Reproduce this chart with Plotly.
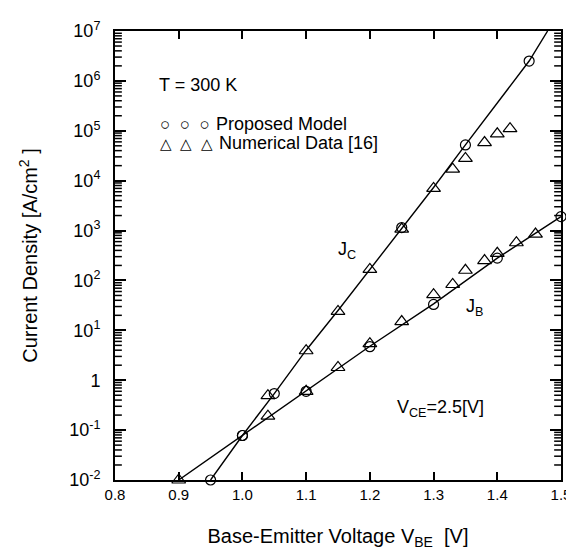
import plotly.graph_objects as go

# ---- data ----
jc_line_v = [0.95, 1.0, 1.05, 1.1, 1.15, 1.2, 1.25, 1.3, 1.35, 1.4, 1.45, 1.479]
jc_line_j = [0.01, 0.078, 0.54, 4.0, 25, 168, 1100, 7300, 5.2e4, 3.6e5, 2.5e6, 1.0e7]

jb_line_v = [0.9, 1.0, 1.1, 1.2, 1.3, 1.4, 1.5]
jb_line_j = [0.01, 0.078, 0.6, 4.8, 34, 280, 1900]

model_v = [0.95, 1.0, 1.05, 1.25, 1.35, 1.45, 1.0, 1.1, 1.2, 1.3, 1.4, 1.5]
model_j = [0.01, 0.078, 0.54, 1150, 5.2e4, 2.5e6, 0.078, 0.6, 4.7, 33, 280, 1900]

num_jc_v = [1.04, 1.1, 1.15, 1.2, 1.25, 1.3, 1.33, 1.35, 1.38, 1.4, 1.42]
num_jc_j = [0.49, 3.9, 24, 166, 1070, 7000, 1.7e4, 2.8e4, 5.8e4, 8.7e4, 1.1e5]

num_jb_v = [0.9, 1.04, 1.1, 1.15, 1.2, 1.25, 1.3, 1.33, 1.35, 1.38, 1.4, 1.43, 1.46]
num_jb_j = [0.01, 0.19, 0.6, 1.8, 5.4, 15, 52, 83, 160, 250, 350, 570, 850]

x_ticks = [0.8, 0.9, 1.0, 1.1, 1.2, 1.3, 1.4, 1.5]
y_ticks = [1e-2, 1e-1, 1, 1e1, 1e2, 1e3, 1e4, 1e5, 1e6, 1e7]
y_labels = ["10<sup>-2</sup>", "10<sup>-1</sup>", "1", "10<sup>1</sup>", "10<sup>2</sup>",
            "10<sup>3</sup>", "10<sup>4</sup>", "10<sup>5</sup>", "10<sup>6</sup>", "10<sup>7</sup>"]
y_minor = [m * t for t in y_ticks[:-1] for m in range(2, 10)]

X0, X1 = 0.8, 1.5
LY0, LY1 = -2, 7
FONT = "Liberation Sans, Arial, sans-serif"

W = 574 - 107 - 11
H = 551 - 18 - 79

fig = go.Figure()
fig.add_trace(go.Scatter(x=jc_line_v, y=jc_line_j, mode="lines",
                         line=dict(color="black", width=1.4), showlegend=False))
fig.add_trace(go.Scatter(x=jb_line_v, y=jb_line_j, mode="lines",
                         line=dict(color="black", width=1.4), showlegend=False))
fig.add_trace(go.Scatter(x=model_v, y=model_j, mode="markers",
                         marker=dict(symbol="circle-open", size=10, color="black",
                                     line=dict(width=1.2)), showlegend=False,
                         cliponaxis=False))
fig.add_trace(go.Scatter(x=num_jc_v + num_jb_v, y=num_jc_j + num_jb_j, mode="markers",
                         marker=dict(symbol="triangle-up-open", size=12, color="black",
                                     line=dict(width=1.2)), showlegend=False,
                         cliponaxis=False))

# inward minor tick marks on the log axes, drawn as line segments from the tick arrays
def dx(pix):
    return (X1 - X0) * pix / W

mx, my = [], []
for v in y_minor:
    mx += [X0, X0 + dx(7), None, X1, X1 - dx(7), None]
    my += [v, v, None, v, v, None]
fig.add_trace(go.Scatter(x=mx, y=my, mode="lines", connectgaps=False,
                         line=dict(color="black", width=1.5), showlegend=False,
                         hoverinfo="skip"))

fig.update_layout(
    width=574, height=551,
    margin=dict(l=107, r=11, t=18, b=79),
    paper_bgcolor="white", plot_bgcolor="white",
    font=dict(family=FONT, size=15, color="black"),
    xaxis=dict(range=[X0, X1], tickmode="array", tickvals=x_ticks, tickformat=".1f",
               ticks="inside", ticklen=8, tickwidth=2, tickcolor="black",
               showline=True, linecolor="black", linewidth=2, mirror="ticks",
               showgrid=False, zeroline=False, tickfont=dict(size=15),
               title=dict(text="Base-Emitter Voltage V<sub>BE</sub>  [V]", standoff=27,
                          font=dict(size=20))),
    yaxis=dict(type="log", range=[LY0, LY1], tickmode="array", tickvals=y_ticks, ticktext=y_labels,
               ticks="inside", ticklen=11, tickwidth=2, tickcolor="black",
               showline=True, linecolor="black", linewidth=2, mirror="ticks",
               showgrid=False, zeroline=False, tickfont=dict(size=18),
               ticklabelstandoff=9,
               title=dict(text="Current Density [A/cm<sup>2</sup> ]", standoff=26,
                          font=dict(size=20))),
)

def px(x, y):
    return (x - 107) / W, 1 - (y - 18) / H

for text, (x, y), size in [
    ("T = 300 K", (150, 73), 18),
    ("○  ○  ○", (151, 113), 17),
    ("Proposed Model", (208, 112), 18),
    ("△  △  △", (151, 132), 15),
    ("Numerical Data [16]", (211, 131), 18),
    ("J<sub>C</sub>", (333, 240), 18),
    ("J<sub>B</sub>", (464, 298), 18),
    ("V<sub>CE</sub>=2.5[V]", (393, 400), 18),
]:
    xx, yy = px(x, y)
    fig.add_annotation(text=text, x=xx, y=yy, xref="paper", yref="paper",
                       showarrow=False, xanchor="left", yanchor="middle",
                       font=dict(size=size))

fig.write_html("out.html")
